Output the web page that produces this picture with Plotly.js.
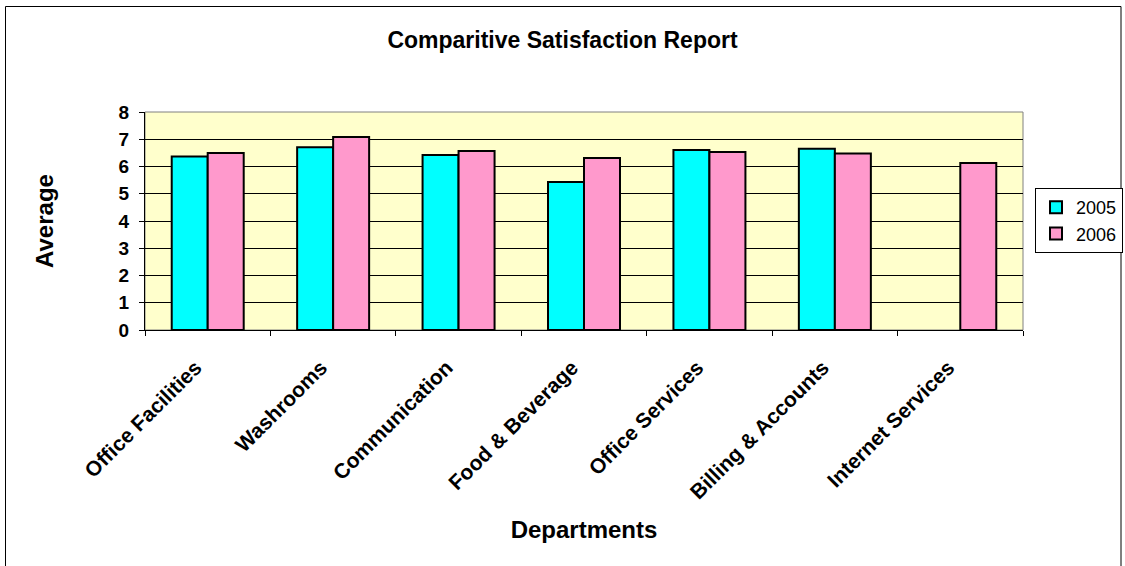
<!DOCTYPE html>
<html>
<head>
<meta charset="utf-8">
<script src="https://cdn.plot.ly/plotly-3.0.1.min.js"></script>
<style>html,body{margin:0;padding:0;background:#fff;}#chart{width:1125px;height:566px;}</style>
</head>
<body>
<div id="chart"></div>
<script>
const categories = ["Office Facilities", "Washrooms", "Communication", "Food & Beverage", "Office Services", "Billing & Accounts", "Internet Services"];
const values2005 = [6.37, 6.71, 6.42, 5.43, 6.61, 6.65, null];
const values2006 = [6.50, 7.08, 6.57, 6.31, 6.53, 6.48, 6.13];
const seriesNames = ["2005", "2006"];
const yTicks = [0, 1, 2, 3, 4, 5, 6, 7, 8];

const FONT = "Liberation Sans, Arial, sans-serif";

const traces = [
  {type: "bar", name: seriesNames[0], x: categories, y: values2005,
   marker: {color: "#00FFFF", line: {color: "#000000", width: 2}}},
  {type: "bar", name: seriesNames[1], x: categories, y: values2006,
   marker: {color: "#FF99CC", line: {color: "#000000", width: 2}}}
];

const layout = {
  width: 1125, height: 566,
  margin: {l: 145, r: 102, t: 112, b: 236, autoexpand: false},
  paper_bgcolor: "#FFFFFF",
  plot_bgcolor: "#FFFFCC",
  barmode: "group",
  bargap: 0.426,
  bargroupgap: 0,
  font: {family: FONT, color: "#000000"},
  title: {text: "<b>Comparitive Satisfaction Report</b>", font: {family: FONT, size: 23, color: "#000"},
          x: 0.5, xref: "container", y: 1 - 40/566, yref: "container", yanchor: "middle"},
  xaxis: {
    type: "category",
    tickangle: -45,
    tickvals: categories,
    ticktext: categories.map(c => "<b>" + c.replace("&", "&amp;") + "</b>"),
    tickfont: {family: FONT, size: 21, color: "#000"},
    ticks: "outside", ticklen: 5, tickcolor: "#000", tickson: "boundaries",
    ticklabelstandoff: 16, ticklabelshift: -12,
    showline: true, linecolor: "#000", linewidth: 1,
    showgrid: false,
    title: {text: "<b>Departments</b>", font: {family: FONT, size: 24, color: "#000"}, standoff: 18},
    automargin: false,
    fixedrange: true
  },
  yaxis: {
    range: [0, 8],
    tickvals: yTicks,
    ticktext: yTicks.map(v => "<b>" + v + "</b>"),
    tickfont: {family: FONT, size: 19, color: "#000"},
    ticks: "outside", ticklen: 5, tickcolor: "#000",
    ticklabelstandoff: 6,
    showline: true, linecolor: "#000", linewidth: 1,
    showgrid: true, gridcolor: "#000", gridwidth: 1,
    zeroline: false,
    title: {text: "<b>Average</b>", font: {family: FONT, size: 24, color: "#000"}, standoff: 58},
    automargin: false,
    fixedrange: true
  },
  legend: {
    xref: "container", yref: "container",
    x: 1035 / 1125, xanchor: "left",
    y: 1 - 188 / 566, yanchor: "top",
    bordercolor: "#000", borderwidth: 1, bgcolor: "#FFFFFF",
    font: {family: FONT, size: 18, color: "#000"},
    itemwidth: 30, tracegroupgap: 2
  },
  showlegend: true,
  shapes: [
    {type: "rect", xref: "paper", yref: "paper", x0: 0, x1: 1, y0: 0, y1: 1,
     line: {color: "#808080", width: 1}, fillcolor: "rgba(0,0,0,0)", layer: "below"},
    {type: "rect", xref: "paper", yref: "paper",
     x0: (5.5 - 145) / 878, x1: (1121 - 145) / 878,
     y0: (330 - 600) / 218, y1: (330 - 6.5) / 218,
     line: {color: "#000", width: 1}, fillcolor: "rgba(0,0,0,0)"}
  ]
};

Plotly.newPlot("chart", traces, layout, {displayModeBar: false, staticPlot: true});
</script>
</body>
</html>
